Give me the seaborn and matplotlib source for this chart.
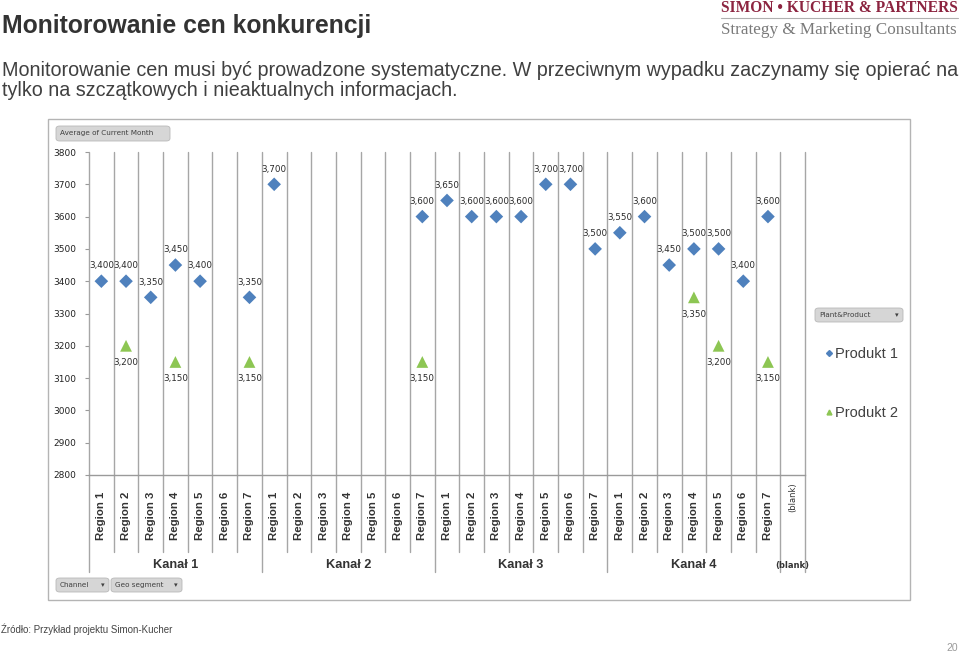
import numpy as np
import pandas as pd
import matplotlib
matplotlib.use("Agg")
import matplotlib.pyplot as plt
import seaborn as sns
from matplotlib.patches import Rectangle, FancyBboxPatch
from matplotlib.transforms import blended_transform_factory
from matplotlib.lines import Line2D

# ---------------- data ----------------
channels = ["Kanał 1", "Kanał 2", "Kanał 3", "Kanał 4"]
regions = ["Region 1", "Region 2", "Region 3", "Region 4", "Region 5", "Region 6", "Region 7"]
blank_label = "(blank)"
series_names = ["Produkt 1", "Produkt 2"]

produkt1 = [3400, 3400, 3350, 3450, 3400, None, 3350,
            3700, None, None, None, None, None, 3600,
            3650, 3600, 3600, 3600, 3700, 3700, 3500,
            3550, 3600, 3450, 3500, 3500, 3400, 3600,
            None]
produkt2 = [None, 3200, None, 3150, None, None, 3150,
            None, None, None, None, None, None, 3150,
            None, None, None, None, None, None, None,
            None, None, None, 3350, 3200, None, 3150,
            None]
y_ticks = [2800, 2900, 3000, 3100, 3200, 3300, 3400, 3500, 3600, 3700, 3800]

# ---------------- table ----------------
cat_channel = [c for c in channels for _ in regions] + [blank_label]
cat_region = [r for _ in channels for r in regions] + [blank_label]
n_cat = len(cat_region)
rows = []
for i in range(n_cat):
    for name, vals in zip(series_names, [produkt1, produkt2]):
        if vals[i] is not None:
            rows.append({"pos": i, "value": vals[i], "Plant&Product": name})
df = pd.DataFrame(rows)

# ---------------- figure ----------------
sns.set_theme(style="white")
plt.rcParams['font.family'] = ['Liberation Sans', 'DejaVu Sans']
W, H = 960, 653
fig = plt.figure(figsize=(9.6, 6.53), dpi=100)
fig.patch.set_facecolor("white")

def fx(px):
    return px / W

def fy(py):
    return 1 - py / H

# header
fig.text(fx(2), fy(26), "Monitorowanie cen konkurencji", fontsize=17.8, fontweight="bold",
         color="#333333", va="center", ha="left")
fig.text(fx(721), fy(8), "SIMON • KUCHER & PARTNERS", fontsize=11.2, fontweight="bold",
         color="#8C2440", va="center", ha="left", family=["Liberation Serif", "DejaVu Serif"])
fig.add_artist(Line2D([fx(721), fx(958)], [fy(18), fy(18)], color="#B0B0B0", lw=0.8))
fig.text(fx(721), fy(30), "Strategy & Marketing Consultants", fontsize=12.3,
         color="#7A7A7A", va="center", ha="left", family=["Liberation Serif", "DejaVu Serif"])
fig.text(fx(2), fy(70), "Monitorowanie cen musi być prowadzone systematyczne. W przeciwnym wypadku zaczynamy się opierać na",
         fontsize=14.2, color="#404040", va="center", ha="left")
fig.text(fx(2), fy(90), "tylko na szczątkowych i nieaktualnych informacjach.",
         fontsize=14.2, color="#404040", va="center", ha="left")

# footer
fig.text(fx(1), fy(629), "Źródło: Przykład projektu Simon-Kucher", fontsize=7, color="#444444",
         va="center", ha="left")
fig.text(fx(958), fy(648), "20", fontsize=7.5, color="#999999", va="center", ha="right")

# chart frame
fig.add_artist(Rectangle((fx(48), fy(600)), fx(910) - fx(48), fy(119) - fy(600),
                         transform=fig.transFigure, fill=False, edgecolor="#B4B4B4", lw=1.0))

def button(x0, y0, x1, y1, text, arrow=False, fs=5.2):
    b = FancyBboxPatch((fx(x0), fy(y1)), fx(x1) - fx(x0), fy(y0) - fy(y1),
                       boxstyle="round,pad=0,rounding_size=0.004", transform=fig.transFigure,
                       facecolor="#D6D6D6", edgecolor="#B8B8B8", lw=0.6)
    fig.add_artist(b)
    fig.text(fx(x0 + 4), fy((y0 + y1) / 2), text, fontsize=fs, color="#404040",
             va="center", ha="left", family=["DejaVu Sans"])
    if arrow:
        fig.text(fx(x1 - 6), fy((y0 + y1) / 2), "▾", fontsize=fs, color="#404040",
                 va="center", ha="center", family=["DejaVu Sans"])

button(56, 126, 170, 141, "Average of Current Month")
button(56, 578, 109, 592, "Channel", arrow=True)
button(111, 578, 182, 592, "Geo segment", arrow=True)
button(815, 308, 903, 322, "Plant&Product", arrow=True)

# axes
ax = fig.add_axes([fx(89), fy(475), fx(805) - fx(89), fy(152) - fy(475)])
palette = {"Produkt 1": "#4F81BD", "Produkt 2": "#8DC653"}
markers = {"Produkt 1": "D", "Produkt 2": "^"}
sizes = {"Produkt 1": 48, "Produkt 2": 72}
for name in series_names:
    sub = df[df["Plant&Product"] == name]
    sns.scatterplot(data=sub, x="pos", y="value", color=palette[name], marker=markers[name],
                    s=sizes[name], edgecolor="none", linewidth=0, ax=ax, label=name, zorder=3)

ax.set_xlim(-0.5, n_cat - 0.5)
ax.set_ylim(2800, 3800)
ax.set_yticks(y_ticks)
ax.set_yticklabels([str(t) for t in y_ticks], fontsize=6.5, color="#222222", family="DejaVu Sans")
ax.set_xticks([])
ax.set_xlabel("")
ax.set_ylabel("")
for s in ["top", "right", "left"]:
    ax.spines[s].set_visible(False)
ax.spines["bottom"].set_color("#9A9A9A")
ax.spines["bottom"].set_linewidth(1.0)
ax.tick_params(axis="y", length=3, width=0.8, color="#9A9A9A", pad=6, left=True)
ax.set_facecolor("white")

trans = blended_transform_factory(ax.transData, ax.transAxes)
grid_c = "#A6A6A6"
# region separators
for k in range(n_cat + 1):
    xb = k - 0.5
    is_major = (k % 7 == 0) or k == n_cat
    bottom = -0.30 if is_major else -0.238
    ax.plot([xb, xb], [1.0, bottom], transform=trans, color=grid_c, lw=1.0,
            clip_on=False, zorder=1)

# region labels
for i, r in enumerate(cat_region):
    if r == blank_label:
        ax.text(i, -0.07, r, transform=trans, rotation=90, ha="center", va="center",
                fontsize=6, color="#333333", family="DejaVu Sans")
    else:
        ax.text(i, -0.201, r, transform=trans, rotation=90, ha="center", va="bottom",
                fontsize=8.2, fontweight="bold", color="#333333")

# channel labels
for j, c in enumerate(channels):
    ax.text(j * 7 + 3, -0.279, c, transform=trans, ha="center", va="center",
            fontsize=9.2, fontweight="bold", color="#333333")
ax.text(n_cat - 1, -0.279, blank_label, transform=trans, ha="center", va="center",
        fontsize=6, fontweight="bold", color="#333333", family="DejaVu Sans")

# data labels
for _, row in df.iterrows():
    up = row["Plant&Product"] == "Produkt 1"
    ax.annotate(f"{int(row['value']):,}", (row["pos"], row["value"]),
                xytext=(0, 11 if up else -12), textcoords="offset points",
                ha="center", va="center", fontsize=6.3, color="#2A2A2A",
                family="DejaVu Sans", zorder=4)

# legend
handles = [Line2D([], [], marker="D", color=palette["Produkt 1"], ls="none", markersize=3),
           Line2D([], [], marker="^", color=palette["Produkt 2"], ls="none", markersize=3.5)]
leg = ax.legend(handles, series_names, loc="upper left", bbox_to_anchor=(fx(818), fy(340)),
                bbox_transform=fig.transFigure, frameon=False, fontsize=10.5,
                handlelength=0.5, handletextpad=0.15, labelspacing=3.05, borderpad=0)
for t in leg.get_texts():
    t.set_color("#404040")

fig.savefig("out.png", dpi=100, facecolor="white")
